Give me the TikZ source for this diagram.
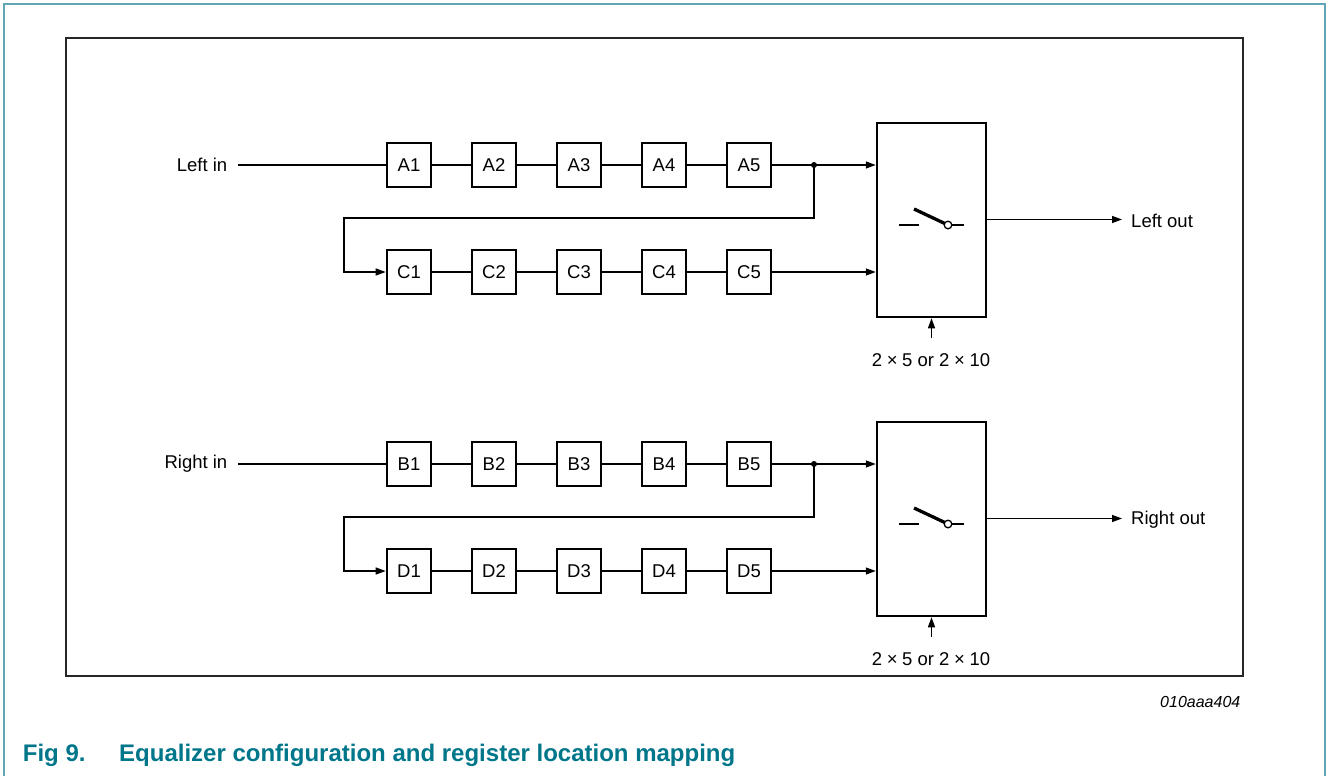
\documentclass[tikz,border=0pt]{standalone}
\usepackage{fontspec}
\setmainfont{Liberation Sans}
\usetikzlibrary{arrows.meta,calc}
\definecolor{capteal}{RGB}{0,118,138}
\definecolor{bordteal}{RGB}{95,165,182}
\begin{document}
\begin{tikzpicture}[x=1pt,y=-1pt,
  eqbox/.style={draw, line width=2.6pt, minimum width=44pt, minimum height=44pt, inner sep=0pt, font=\fontsize{18.5}{20}\selectfont},
  swbox/.style={draw, line width=2.5pt, minimum width=109pt, minimum height=194pt, inner sep=0pt},
  wire/.style={line width=1.3pt},
  arr/.style={wire, -{Triangle[length=10pt,width=7pt]}},
  lbl/.style={font=\fontsize{18.5}{20}\selectfont, inner sep=0pt},
  dot/.style={circle, fill=black, inner sep=0pt, minimum size=6pt},
  captxt/.style={font=\fontsize{24}{26}\selectfont\bfseries, text=capteal, anchor=base west, inner sep=0pt}
]
\useasboundingbox (0,0) rectangle (1327,776);
% outer teal border
\draw[bordteal, line width=1.6pt] (4,776) -- (4,4) -- (1325,4) -- (1325,776);
% inner frame
\draw[line width=2.5pt, black!85] (66,38) rectangle (1243,676);

\foreach \r/\top/\bot/\inl/\outl [count=\k] in {0/A/C/Left in/Left out, 299/B/D/Right in/Right out}{
  % boxes
  \foreach \i in {1,...,5}{
    \node[eqbox] (\top\i) at ({409+85*(\i-1)},{165+\r}) {\top\i};
    \node[eqbox] (\bot\i) at ({409+85*(\i-1)},{272+\r}) {\bot\i};
  }
  \foreach \i/\j in {1/2,2/3,3/4,4/5}{
    \draw[wire] (\top\i) -- (\top\j);
    \draw[wire] (\bot\i) -- (\bot\j);
  }
  % input label
  \node[lbl, anchor=east] (IN\k) at (227.5,{165+\r}) {\inl};
  \coordinate (INS\k) at (238,{165+\r});
  \draw[wire] (INS\k) -- (\top1);
  % switch box
  \node[swbox] (SW\k) at (931.5,{220+\r}) {};
  \coordinate (J\k) at (814,{165+\r});
  \coordinate (L\k) at (344,{218+\r});
  \draw[arr] (\top5) -- (SW\k.west |- \top5);
  \draw[arr] (\bot5) -- (SW\k.west |- \bot5);
  \draw[arr] (J\k) |- (L\k) |- (\bot1.west);
  \node[dot] at (J\k) {};
  % switch symbol
  \draw[wire] ($(SW\k.center)+(-32.5,5)$) -- ++(20,0);
  \draw[line width=3.3pt] ($(SW\k.center)+(-17.5,-11)$) -- ($(SW\k.center)+(13.5,3.6)$);
  \draw[wire] ($(SW\k.center)+(20,5)$) -- ++(12.5,0);
  \draw[wire, fill=white] ($(SW\k.center)+(16.5,5)$) circle (3.8pt);
  % output
  \coordinate (O\k) at (1122,{219.5+\r});
  \draw[arr] (SW\k.east |- O\k) -- (O\k);
  \node[lbl, anchor=west] (OUT\k) at (1131,{220.5+\r}) {\outl};
  % control input
  \coordinate (K\k) at (931.5,{338+\r});
  \draw[arr] (K\k) -- (SW\k.south);
  \node[lbl] (CT\k) at (931,{360.5+\r}) {2\hspace{0.25em}×\hspace{0.25em}5 or 2\hspace{0.25em}×\hspace{0.25em}10};
}
\node[font=\fontsize{16}{18}\selectfont\itshape, anchor=east, inner sep=0pt] (code) at (1240.5,702) {010aaa404};
\node[captxt] (fig) at (22.7,761.5) {Fig 9.};
\node[captxt] (cap) at (119,761.5) {Equalizer configuration and register location mapping};
\end{tikzpicture}
\end{document}
